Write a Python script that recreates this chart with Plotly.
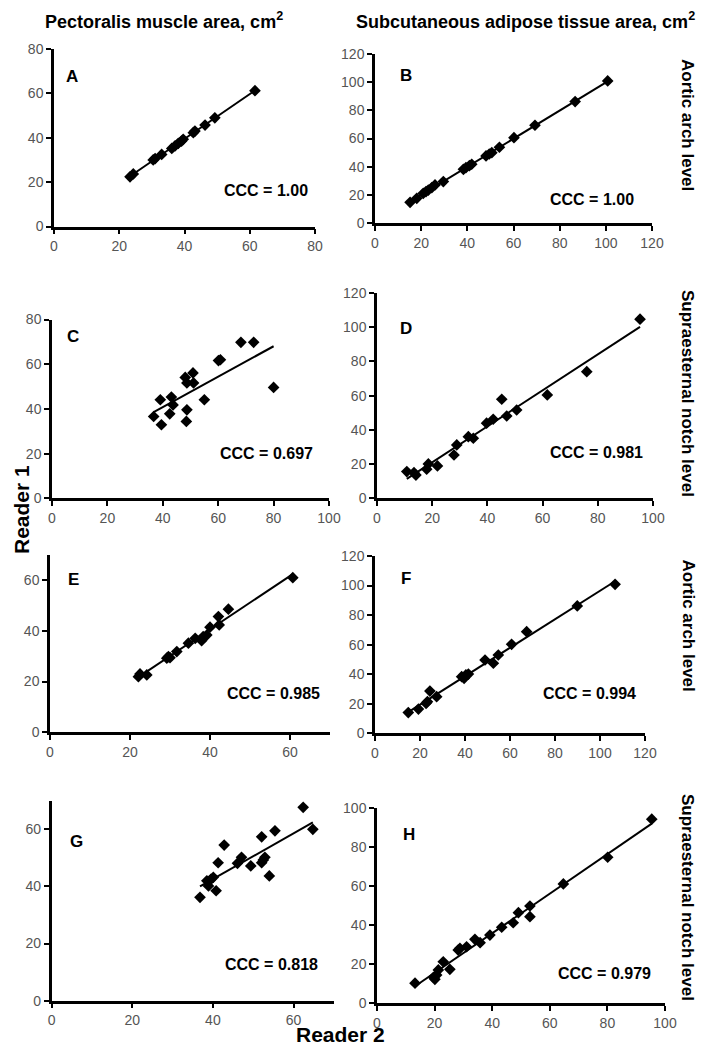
import numpy as np
import plotly.graph_objects as go

W, H = 707, 1050
OFF = 8  # page body margin offset of the rendered figure

# ---------------- Data (x = Reader 2, y = Reader 1) ----------------
a_reader2 = [23.3, 24.3, 30.4, 31.0, 33.0, 36.1, 37.1, 38.1, 39.1, 39.6, 42.7, 43.2, 46.3, 49.3, 61.6]
a_reader1 = [22.4, 23.7, 30.0, 30.6, 32.5, 35.2, 36.3, 37.5, 38.5, 39.3, 42.3, 43.0, 45.7, 49.0, 61.2]

b_reader2 = [15.2, 18.1, 20.9, 22.1, 23.1, 24.6, 26.0, 29.6, 38.3, 39.4, 40.9, 41.9, 48.1, 49.5, 50.6, 53.9, 60.2, 69.3, 86.7, 100.8]
b_reader1 = [14.7, 17.5, 21.1, 22.3, 23.4, 25.1, 27.0, 29.4, 38.1, 39.3, 40.7, 41.7, 47.6, 49.0, 49.9, 53.8, 60.6, 69.4, 86.2, 100.9]

c_reader2 = [36.7, 39.5, 39.1, 42.5, 43.1, 43.7, 48.5, 48.7, 48.1, 48.7, 50.9, 51.1, 55.0, 60.1, 60.8, 68.2, 72.8, 80.0]
c_reader1 = [36.6, 32.9, 44.1, 37.8, 45.3, 41.8, 34.4, 39.6, 54.1, 51.6, 56.1, 51.6, 44.1, 61.6, 62.0, 69.8, 69.8, 49.6]

d_reader2 = [10.8, 13.4, 14.1, 18.0, 18.6, 21.9, 27.9, 28.9, 33.1, 34.9, 39.7, 42.1, 45.2, 47.0, 50.6, 61.7, 76.0, 95.3]
d_reader1 = [15.6, 15.0, 13.6, 17.0, 20.1, 18.9, 25.3, 31.2, 36.0, 35.1, 43.9, 46.2, 57.9, 48.1, 51.6, 60.4, 74.0, 104.7]

e_reader2 = [22.1, 22.5, 24.2, 29.2, 29.6, 30.0, 31.7, 34.6, 36.3, 37.9, 38.3, 39.2, 40.0, 42.1, 42.3, 44.6, 60.7]
e_reader1 = [21.9, 23.0, 22.6, 29.2, 29.8, 29.4, 31.8, 35.1, 37.0, 36.1, 37.7, 38.3, 41.4, 45.6, 42.3, 48.5, 60.9]

f_reader2 = [14.8, 19.3, 22.7, 23.3, 24.4, 27.4, 38.5, 39.6, 40.4, 41.5, 48.9, 52.6, 54.8, 60.7, 67.4, 89.9, 106.7]
f_reader1 = [14.0, 16.4, 20.3, 21.4, 28.6, 24.8, 38.3, 37.2, 39.5, 40.1, 49.6, 47.4, 53.0, 60.2, 68.8, 86.2, 100.8]

g_reader2 = [36.8, 38.5, 38.9, 39.5, 40.1, 40.8, 41.3, 42.8, 46.1, 47.1, 49.4, 52.1, 52.1, 52.5, 52.9, 54.0, 55.4, 62.4, 64.8]
g_reader1 = [36.2, 42.0, 40.2, 42.5, 43.2, 38.5, 48.3, 54.5, 48.1, 50.2, 47.2, 57.4, 48.3, 49.3, 50.2, 43.7, 59.5, 67.7, 60.0]

h_reader2 = [13.2, 19.6, 20.1, 20.7, 21.3, 23.0, 25.3, 28.2, 28.8, 31.1, 34.0, 35.8, 39.2, 43.3, 47.3, 49.1, 53.1, 53.1, 64.7, 80.1, 95.4]
h_reader1 = [10.3, 13.3, 12.3, 14.5, 17.1, 21.3, 17.4, 27.3, 28.2, 29.0, 32.8, 31.1, 35.0, 39.0, 41.3, 46.5, 44.4, 49.9, 61.2, 74.9, 94.4]

panel_letters = ["A", "B", "C", "D", "E", "F", "G", "H"]
ccc_labels = ["CCC = 1.00", "CCC = 1.00", "CCC = 0.697", "CCC = 0.981",
              "CCC = 0.985", "CCC = 0.994", "CCC = 0.818", "CCC = 0.979"]
x_ranges = [(0, 80), (0, 120), (0, 100), (0, 100), (0, 70), (0, 120), (0, 70), (0, 100)]
y_ranges = [(0, 80), (0, 120), (0, 80), (0, 120), (0, 70), (0, 120), (0, 70), (0, 100)]
col_titles = ["Pectoralis muscle area, cm<sup>2</sup>", "Subcutaneous adipose tissue area, cm<sup>2</sup>"]
row_labels = ["Aortic arch level", "Supraesternal notch level", "Aortic arch level", "Supraesternal notch level"]

xs_all = [a_reader2, b_reader2, c_reader2, d_reader2, e_reader2, f_reader2, g_reader2, h_reader2]
ys_all = [a_reader1, b_reader1, c_reader1, d_reader1, e_reader1, f_reader1, g_reader1, h_reader1]

# ---------------- Layout geometry (screen pixels) ----------------
boxes = [
    (54, 315, 226.5, 49),
    (375, 652, 223, 54),
    (52, 329, 498.3, 319.5),
    (377, 653, 498.3, 293),
    (50, 330, 732.3, 554.6),
    (375, 645, 733.3, 556),
    (51.7, 333.8, 1000.7, 800.8),
    (377, 665, 1003.3, 808.3),
]
letter_pos = [(71.5, 76), (406, 75.5), (72.5, 336.5), (406, 328.5),
              (73, 579), (406, 578), (76.5, 841.5), (408.5, 834)]
ccc_pos = [(310, 190.5), (636, 199), (315, 453), (645, 452.5),
           (322, 693.5), (638, 693.5), (320, 964.5), (653, 973)]
row_label_pos = [(688, 125), (688, 393), (688, 625.5), (688, 897)]


def px(x):
    return (x - OFF) / W


def py(y):
    return 1 - (y - OFF) / H


fig = go.Figure()
layout = dict(
    template="none",
    width=W, height=H,
    margin=dict(l=0, r=0, t=0, b=0, pad=0),
    paper_bgcolor="white", plot_bgcolor="white",
    showlegend=False,
    annotations=[],
)

tick_font = dict(family="Liberation Sans, Arial, sans-serif", size=14, color="#555555")
bold = "Liberation Sans, Arial, sans-serif"

for i in range(8):
    n = i + 1
    xa = "x" if n == 1 else f"x{n}"
    ya = "y" if n == 1 else f"y{n}"
    xs = np.array(xs_all[i])
    ys = np.array(ys_all[i])
    fig.add_trace(go.Scatter(x=xs, y=ys, mode="markers", xaxis=xa, yaxis=ya,
                             marker=dict(symbol="diamond", size=9, color="black",
                                         line=dict(width=0)),
                             cliponaxis=False))
    k, b0 = np.polyfit(xs, ys, 1)
    lx = np.array([xs.min(), xs.max()])
    fig.add_trace(go.Scatter(x=lx, y=k * lx + b0, mode="lines", xaxis=xa, yaxis=ya,
                             line=dict(color="black", width=2)))
    l, r, bt, tp = boxes[i]
    axis_common = dict(showline=True, linecolor="black", linewidth=2.5,
                       ticks="outside", ticklen=5, tickwidth=2, tickcolor="black",
                       showgrid=False, zeroline=False, tickfont=tick_font, dtick=20,
                       automargin=False)
    layout["xaxis" if n == 1 else f"xaxis{n}"] = dict(
        domain=[px(l), px(r)], range=list(x_ranges[i]), anchor=ya, **axis_common)
    layout["yaxis" if n == 1 else f"yaxis{n}"] = dict(
        domain=[py(bt), py(tp)], range=list(y_ranges[i]), anchor=xa, **axis_common)

    lxp, lyp = letter_pos[i]
    layout["annotations"].append(dict(
        x=px(lxp), y=py(lyp), xref="paper", yref="paper", text=f"<b>{panel_letters[i]}</b>",
        showarrow=False, xanchor="center", yanchor="middle",
        font=dict(family=bold, size=17, color="black")))
    cxp, cyp = ccc_pos[i]
    layout["annotations"].append(dict(
        x=px(cxp), y=py(cyp), xref="paper", yref="paper", text=f"<b>{ccc_labels[i]}</b>",
        showarrow=False, xanchor="right", yanchor="middle",
        font=dict(family=bold, size=16, color="black")))

for t, cx in zip(col_titles, [164, 525]):
    layout["annotations"].append(dict(
        x=px(cx), y=py(20), xref="paper", yref="paper", text=f"<b>{t}</b>",
        showarrow=False, xanchor="center", yanchor="middle",
        font=dict(family=bold, size=18, color="black")))

for t, (rx, ry) in zip(row_labels, row_label_pos):
    layout["annotations"].append(dict(
        x=px(rx), y=py(ry), xref="paper", yref="paper", text=f"<b>{t}</b>",
        showarrow=False, xanchor="center", yanchor="middle", textangle=90,
        font=dict(family=bold, size=17, color="black")))

layout["annotations"].append(dict(
    x=px(21), y=py(510), xref="paper", yref="paper", text="<b>Reader 1</b>",
    showarrow=False, xanchor="center", yanchor="middle", textangle=-90,
    font=dict(family=bold, size=21, color="black")))
layout["annotations"].append(dict(
    x=px(340), y=py(1034), xref="paper", yref="paper", text="<b>Reader 2</b>",
    showarrow=False, xanchor="center", yanchor="middle",
    font=dict(family=bold, size=21, color="black")))

fig.update_layout(**layout)
fig.write_html("out.html")
